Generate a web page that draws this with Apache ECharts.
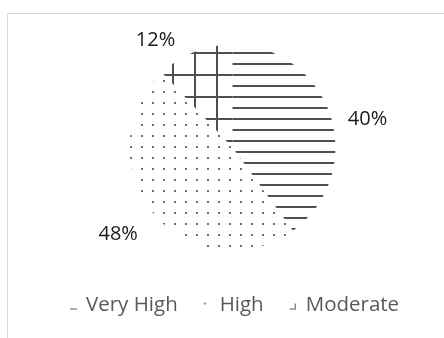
<!DOCTYPE html>
<html>
<head>
<meta charset="utf-8">
<script src="https://cdn.jsdelivr.net/npm/echarts@6/dist/echarts.min.js"></script>
<style>
  html, body { margin: 0; padding: 0; background: #fff; }
  #chart { width: 444px; height: 338px; }
</style>
</head>
<body>
<div id="chart"></div>
<script>
// data
var categories = ['Very High', 'High', 'Moderate'];
var values = [40, 48, 12];

var FONT = '"Open Sans", sans-serif';
var INK = '#595959';

// pattern tiles (anchored to canvas origin)
function tile(w, h, draw) {
    var c = document.createElement('canvas');
    c.width = w; c.height = h;
    var ctx = c.getContext('2d');
    draw(ctx);
    return c;
}
var hLines = tile(11, 11, function (ctx) {
    ctx.fillStyle = '#505050';
    ctx.fillRect(0, 8, 11, 2);
});
var dots = tile(11, 11, function (ctx) {
    ctx.fillStyle = '#6e6e6e';
    ctx.fillRect(9, 3, 2, 2);
});
var grid = tile(22, 22, function (ctx) {
    ctx.fillStyle = '#505050';
    ctx.fillRect(0, 8, 22, 2);
    ctx.fillRect(18, 0, 2, 22);
});
var patterns = [hLines, dots, grid];

// little legend swatches
var icons = [
    tile(12, 10, function (ctx) { ctx.fillStyle = INK; ctx.fillRect(1, 8, 7, 1); }),
    tile(12, 10, function (ctx) {
        ctx.fillStyle = '#8a8a8a'; ctx.fillRect(1, 2, 2, 2);
        ctx.fillStyle = '#d0d0d0'; ctx.fillRect(7, 7, 1, 1);
    }),
    tile(12, 10, function (ctx) {
        ctx.fillStyle = INK; ctx.fillRect(1, 8, 6, 1); ctx.fillRect(6, 3, 1, 6);
    })
];

var labelOffsets = [[1, 7], [-1, 13], [-10, 0]];

var chart = echarts.init(document.getElementById('chart'));
var option = {
    backgroundColor: '#fff',
    animation: false,
    graphic: [{
        type: 'rect',
        shape: { x: 7.5, y: 13.5, width: 460, height: 400 },
        style: { fill: 'none', stroke: '#d9d9d9', lineWidth: 1 },
        silent: true
    }],
    legend: {
        data: categories.map(function (name, i) {
            return { name: name, icon: 'image://' + icons[i].toDataURL() };
        }),
        left: 64,
        top: 290,
        itemWidth: 12,
        itemHeight: 10,
        itemGap: 25,
        textStyle: { color: INK, fontFamily: FONT, fontSize: 20.5 }
    },
    series: [{
        type: 'pie',
        center: [232.5, 147.5],
        radius: 103,
        startAngle: 90,
        clockwise: true,
        avoidLabelOverlap: false,
        silent: true,
        itemStyle: { borderWidth: 0 },
        label: {
            show: true,
            position: 'outside',
            formatter: '{c}%',
            color: '#1a1a1a',
            fontFamily: FONT,
            fontSize: 20,
            distanceToLabelLine: 5
        },
        labelLine: { show: false, length: 12, length2: 0 },
        data: categories.map(function (name, i) {
            return {
                name: name,
                value: values[i],
                itemStyle: { color: { image: patterns[i], repeat: 'repeat' } },
                label: { offset: labelOffsets[i] }
            };
        })
    }]
};
chart.setOption(option);
</script>
</body>
</html>
